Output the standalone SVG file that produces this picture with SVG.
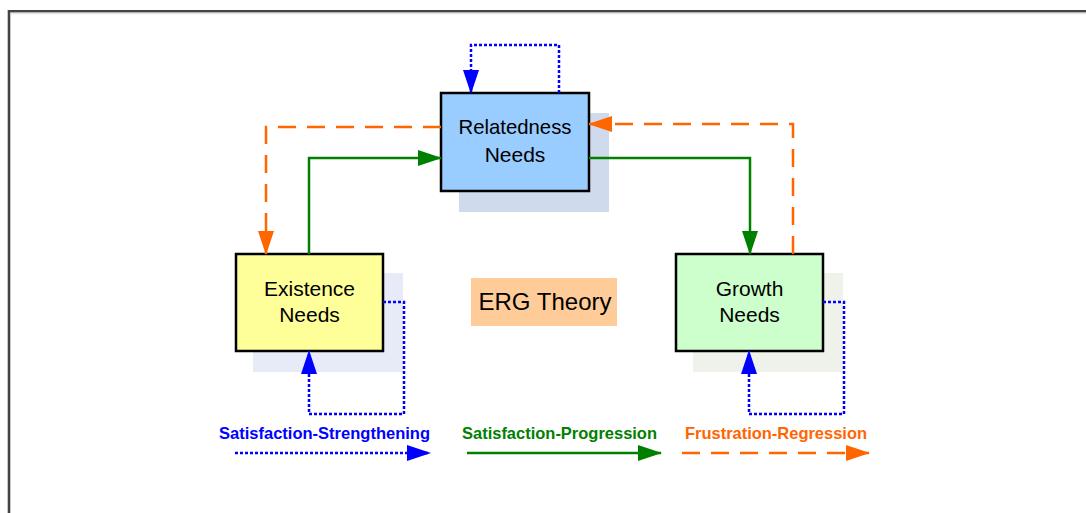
<svg xmlns="http://www.w3.org/2000/svg" width="1086" height="513" viewBox="0 0 1086 513">
<defs>
<style>
.box{stroke:#000;stroke-width:2.5}
.lbl{font-family:"Liberation Sans",Arial,sans-serif;font-size:21px;fill:#000;text-anchor:middle}
.leg{font-family:"Liberation Sans",Arial,sans-serif;font-size:17px;font-weight:bold;text-anchor:middle}
.blue{fill:none;stroke:#0000ff;stroke-width:2.5;stroke-dasharray:3 2}
.green{fill:none;stroke:#008000;stroke-width:2.5}
.orange{fill:none;stroke:#ff6600;stroke-width:2.5;stroke-dasharray:18 11}
</style>
<marker id="ab" markerUnits="userSpaceOnUse" markerWidth="25" markerHeight="18" refX="23" refY="9" orient="auto"><path d="M0,1 L24,9 L0,17 z" fill="#0000ff"/></marker>
<marker id="ag" markerUnits="userSpaceOnUse" markerWidth="25" markerHeight="18" refX="23" refY="9" orient="auto"><path d="M0,1 L24,9 L0,17 z" fill="#008000"/></marker>
<marker id="ao" markerUnits="userSpaceOnUse" markerWidth="25" markerHeight="18" refX="23" refY="9" orient="auto"><path d="M0,1 L24,9 L0,17 z" fill="#ff6600"/></marker>
</defs>
<rect width="1086" height="513" fill="#fff"/>
<path d="M9,513 V11.3 H1086" fill="none" stroke="#444" stroke-width="2.6"/>
<path d="M10.5,13.6 H1086" fill="none" stroke="#e4e4e4" stroke-width="1.5"/>

<g id="relatedness">
<rect x="459" y="113" width="150" height="99" fill="#cfdbed"/>
<rect class="box" x="441" y="93" width="148" height="98" fill="#99ccff"/>
<text class="lbl" x="515" y="134" textLength="113" lengthAdjust="spacingAndGlyphs">Relatedness</text>
<text class="lbl" x="515" y="162">Needs</text>
</g>
<g id="existence">
<rect x="253" y="273" width="150" height="99" fill="#e7ebf7"/>
<rect class="box" x="236" y="254" width="147" height="97" fill="#ffff99"/>
<text class="lbl" x="309.5" y="296">Existence</text>
<text class="lbl" x="309.5" y="322">Needs</text>
</g>
<g id="growth">
<rect x="693" y="273" width="150" height="99" fill="#eff2ea"/>
<rect class="box" x="676" y="254" width="147" height="97" fill="#ccffcc"/>
<text class="lbl" x="749.5" y="296">Growth</text>
<text class="lbl" x="749.5" y="322">Needs</text>
</g>
<g id="erg-theory">
<rect x="471" y="278" width="146" height="48" fill="#ffcc99"/>
<text x="545" y="310" font-family="'Liberation Sans',Arial,sans-serif" font-size="24" text-anchor="middle" fill="#000">ERG Theory</text>
</g>

<g id="connectors">
<path class="blue" d="M559,93 V45 H471 V93" marker-end="url(#ab)"/>
<path class="blue" d="M383,302 H404 V414 H309 V351" marker-end="url(#ab)"/>
<path class="blue" d="M823,302 H844 V414 H749 V351" marker-end="url(#ab)"/>
<path class="green" d="M309,254 V158 H441" marker-end="url(#ag)"/>
<path class="green" d="M589,158 H750 V254" marker-end="url(#ag)"/>
<path class="orange" d="M441,127 H266 V254" marker-end="url(#ao)"/>
<path class="orange" d="M793,254 V124 H589" marker-end="url(#ao)"/>
</g>

<g id="legend">
<text class="leg" x="324.5" y="439" fill="#0000ff" textLength="211" lengthAdjust="spacingAndGlyphs">Satisfaction-Strengthening</text>
<path class="blue" d="M235,453 H430" marker-end="url(#ab)"/>
<text class="leg" x="559.5" y="439" fill="#008000" textLength="195" lengthAdjust="spacingAndGlyphs">Satisfaction-Progression</text>
<path class="green" d="M467,453 H661" marker-end="url(#ag)"/>
<text class="leg" x="776" y="439" fill="#ff6600" textLength="182" lengthAdjust="spacingAndGlyphs">Frustration-Regression</text>
<path class="orange" d="M682,453 H869" marker-end="url(#ao)"/>
</g>
</svg>
